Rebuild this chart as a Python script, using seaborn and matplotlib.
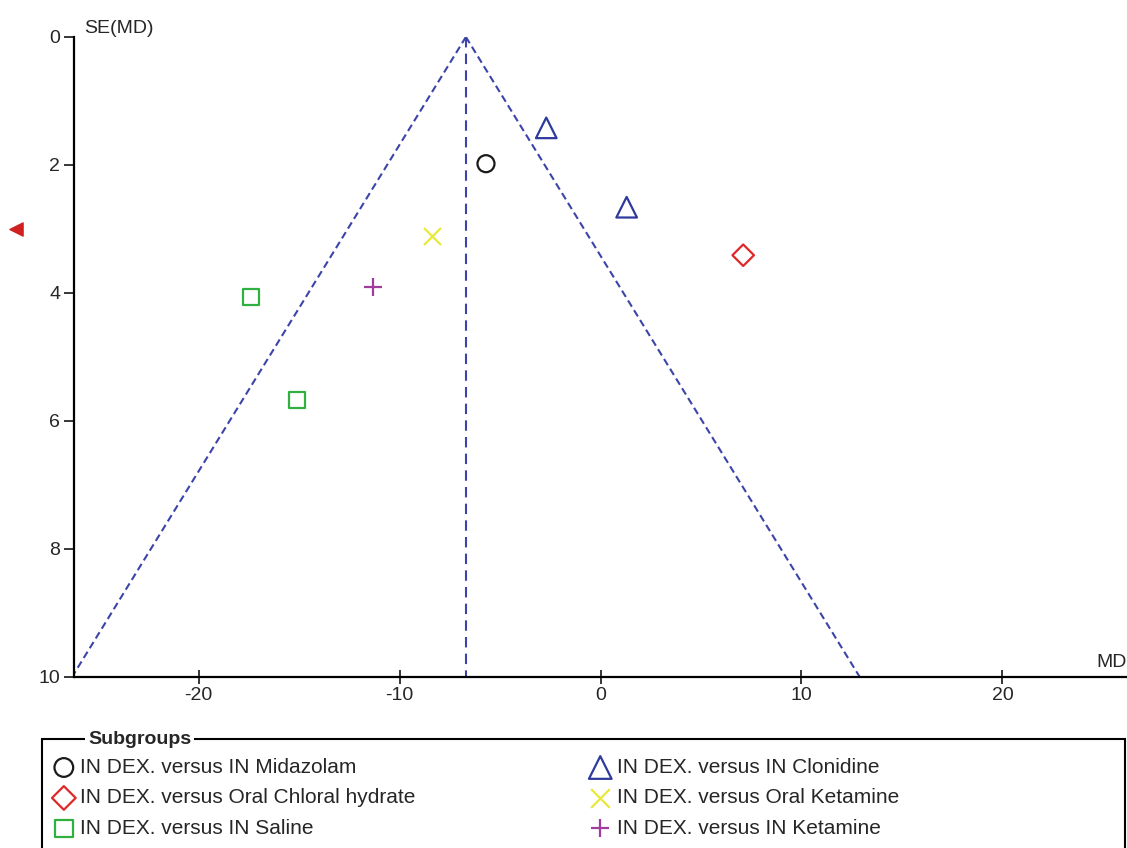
import numpy as np
import pandas as pd
import matplotlib
matplotlib.use("Agg")
import matplotlib.pyplot as plt
import matplotlib.patches as mpatches
import matplotlib.transforms as mtransforms
import seaborn as sns

# study points
groups = ["IN DEX. versus IN Midazolam", "IN DEX. versus IN Clonidine",
          "IN DEX. versus IN Clonidine", "IN DEX. versus Oral Chloral hydrate",
          "IN DEX. versus Oral Ketamine", "IN DEX. versus IN Ketamine",
          "IN DEX. versus IN Saline", "IN DEX. versus IN Saline"]
md = [-5.7, -2.7, 1.3, 7.1, -8.4, -11.3, -17.4, -15.1]
se = [1.98, 1.42, 2.66, 3.41, 3.11, 3.91, 4.06, 5.67]

pooled_md = -6.7
se_range = [0, 10]
side_marker_se = 3.0

styles = {
    "IN DEX. versus IN Midazolam": ("o", "#1a1a1a", 150),
    "IN DEX. versus IN Clonidine": ("^", "#2e3a9c", 220),
    "IN DEX. versus Oral Chloral hydrate": ("D", "#e02828", 120),
    "IN DEX. versus Oral Ketamine": ("x", "#e8e83a", 150),
    "IN DEX. versus IN Ketamine": ("+", "#a03c9c", 150),
    "IN DEX. versus IN Saline": ("s", "#30b040", 130),
}
col1 = ["IN DEX. versus IN Midazolam", "IN DEX. versus Oral Chloral hydrate",
        "IN DEX. versus IN Saline"]
col2 = ["IN DEX. versus IN Clonidine", "IN DEX. versus Oral Ketamine",
        "IN DEX. versus IN Ketamine"]

df = pd.DataFrame({"group": groups, "MD": md, "SE": se})

sns.set_style("white")
plt.rcParams["font.family"] = ["Liberation Sans", "DejaVu Sans"]
plt.rcParams["axes.unicode_minus"] = False

fig = plt.figure(figsize=(11.27, 8.48), dpi=100)
ax = fig.add_axes([0.0657, 0.2017, 0.9343, 0.7547])

# funnel lines
se_arr = np.array(se_range, dtype=float)
fun = pd.DataFrame({"x_lo": pooled_md - 1.96 * se_arr,
                    "x_hi": pooled_md + 1.96 * se_arr,
                    "x_mid": [pooled_md, pooled_md], "se": se_arr})
line_kw = dict(color="#3c44a8", lw=1.5, estimator=None, sort=False, ax=ax)
sns.lineplot(data=fun, x="x_lo", y="se", dashes=(3.5, 2), **line_kw)
sns.lineplot(data=fun, x="x_hi", y="se", dashes=(3.5, 2), **line_kw)
sns.lineplot(data=fun, x="x_mid", y="se", dashes=(5, 3), **line_kw)

handles = {}
for g, (m, c, s) in styles.items():
    sub = df[df["group"] == g]
    if m in ("x", "+"):
        sns.scatterplot(data=sub, x="MD", y="SE", marker=m, color=c, s=s,
                        linewidth=1.6, ax=ax, zorder=5)
    else:
        sns.scatterplot(data=sub, x="MD", y="SE", marker=m, color=c,
                        facecolor="none", edgecolor=c, s=s, linewidth=1.6,
                        ax=ax, zorder=5)
    handles[g] = ax.collections[-1]

ax.set_xlim(-26.2, 26.2)
ax.set_ylim(10, 0)
ax.set_xticks([-20, -10, 0, 10, 20])
ax.set_yticks([0, 2, 4, 6, 8, 10])
ax.set_xlabel("")
ax.set_ylabel("")
sns.despine(ax=ax)
for sp in ["left", "bottom"]:
    ax.spines[sp].set_linewidth(1.6)
    ax.spines[sp].set_color("black")
ax.tick_params(axis="y", direction="out", length=7, width=1.3, labelsize=14,
               left=True, pad=3)
ax.tick_params(axis="x", direction="inout", length=10, width=1.3,
               labelsize=14, bottom=True, pad=2)

ax.text(0.01, 1.0, "SE(MD)", transform=ax.transAxes, fontsize=14,
        ha="left", va="bottom")
ax.text(1.0, 0.01, "MD", transform=ax.transAxes, fontsize=14,
        ha="right", va="bottom")

# red marker on the left edge
trans = mtransforms.blended_transform_factory(ax.transAxes, ax.transData)
ax.scatter([-0.055], [side_marker_se], marker="<", s=90, color="#d02020",
           transform=trans, clip_on=False)

# subgroup legend box
rect = mpatches.Rectangle((0.0373, -0.1), 0.961, 0.2285, transform=fig.transFigure,
                          fill=False, edgecolor="black", lw=1.5)
fig.add_artist(rect)
fig.text(0.078, 0.1285, "Subgroups", fontsize=14, fontweight="bold",
         ha="left", va="center",
         bbox=dict(facecolor="white", edgecolor="none", pad=2))

leg_kw = dict(loc="upper left", frameon=False, fontsize=15, handletextpad=0.3,
              labelspacing=0.55, handlelength=1.0, borderaxespad=0,
              markerscale=1.1)
fig.legend([handles[g] for g in col1], col1, bbox_to_anchor=(0.040, 0.116),
           **leg_kw)
fig.legend([handles[g] for g in col2], col2, bbox_to_anchor=(0.516, 0.116),
           **leg_kw)

fig.savefig("out.png", dpi=100)
